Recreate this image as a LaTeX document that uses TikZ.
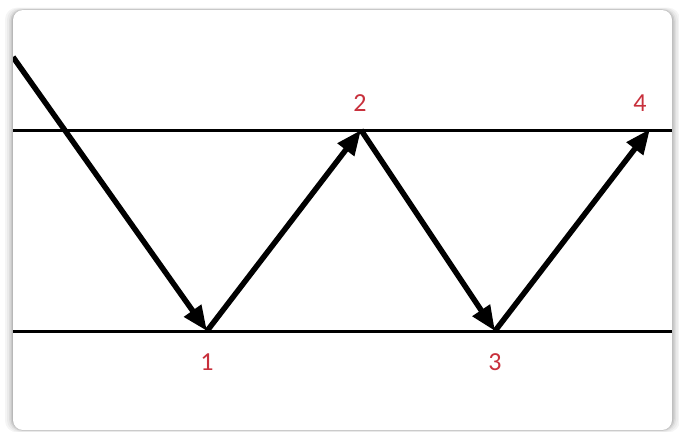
\documentclass[tikz,border=0pt]{standalone}
\usepackage{fontspec}
\setmainfont{Carlito}
\usetikzlibrary{arrows.meta}
\definecolor{lblred}{HTML}{C8303C}
\tikzset{
  level/.style={line width=3pt, black},
  move/.style={line width=5.5pt, black, -{Triangle[length=25pt,width=20pt]}},
  lbl/.style={text=lblred, font=\fontsize{26}{30}\selectfont, inner sep=0pt}
}
\begin{document}
\begin{tikzpicture}[x=1pt,y=-1pt]
\useasboundingbox (0,0) rectangle (679,431);
% shadow and card
\foreach \d/\c in {8/4,6/8,4/13,2.5/20,1.2/28}{
  \fill[black!\c, rounded corners=12pt] (13-\d,10-\d*0.3) rectangle (672+\d,430+\d*0.3);
}
\fill[white, rounded corners=10pt] (13,10) rectangle (672,430);
\begin{scope}
\clip[rounded corners=10pt] (13,10) rectangle (672,430);
\coordinate (tl) at (13,130);
\coordinate (tr) at (672,130);
\coordinate (bl) at (13,331);
\coordinate (br) at (672,331);
\coordinate (p0) at (13,57);
\coordinate (p1) at (207,331);
\coordinate (p2) at (361,130);
\coordinate (p3) at (495,331);
\coordinate (p4) at (650,129);
\draw[level] (tl) -- (tr);
\draw[level] (bl) -- (br);
\draw[move] (p0) -- (p1);
\draw[move] (p1) -- (p2);
\draw[move] (p2) -- (p3);
\draw[move] (p3) -- (p4);
\end{scope}
\node[lbl] (l1) at (207,362) {1};
\node[lbl] (l2) at (360,103) {2};
\node[lbl] (l3) at (495,362) {3};
\node[lbl] (l4) at (640,103) {4};
\end{tikzpicture}
\end{document}
